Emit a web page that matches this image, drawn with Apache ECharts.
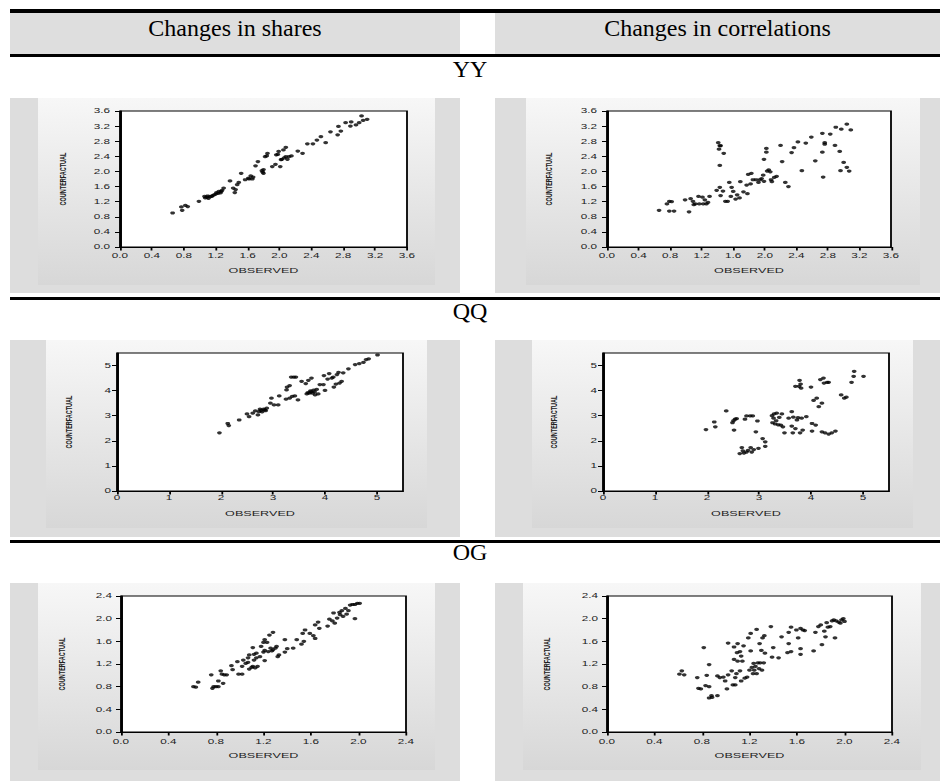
<!DOCTYPE html>
<html><head><meta charset="utf-8">
<script src="https://cdn.jsdelivr.net/npm/echarts@6/dist/echarts.min.js"></script>
<style>
body{margin:0;width:940px;height:781px;position:relative;background:#fff;overflow:hidden;font-family:"Liberation Serif",serif}
.line{position:absolute;left:10px;width:930px;background:#000}
.hdr{position:absolute;top:13px;height:41px;background:#dedede}
.txt{position:absolute;line-height:24px;font-size:24px;text-align:center;color:#000;white-space:nowrap}
.outer{position:absolute;background:#dddddd}
.inner{position:absolute;background:linear-gradient(#f7f7f7,#d7d7d7)}
.chart{position:absolute;transform-origin:0 0}
</style></head><body>
<div class="line" style="top:9px;height:4px"></div>
<div class="hdr" style="left:10px;width:450px"></div>
<div class="hdr" style="left:495px;width:445px"></div>
<div class="txt" style="left:10px;width:450px;top:16px">Changes in shares</div>
<div class="txt" style="left:495px;width:445px;top:16px">Changes in correlations</div>
<div class="line" style="top:54px;height:3px"></div>
<div class="txt" style="left:0;width:940px;top:57px">YY</div>
<div class="outer" style="left:10px;top:98px;width:450px;height:195px"></div>
<div class="outer" style="left:495px;top:98px;width:445px;height:195px"></div>
<div class="inner" style="left:38px;top:98px;width:397px;height:187px"></div>
<div class="inner" style="left:526px;top:98px;width:394px;height:187px"></div>
<div class="line" style="top:297px;height:3px"></div>
<div class="txt" style="left:0;width:940px;top:299px">QQ</div>
<div class="outer" style="left:10px;top:340px;width:450px;height:197px"></div>
<div class="outer" style="left:495px;top:340px;width:445px;height:197px"></div>
<div class="inner" style="left:46px;top:340px;width:381px;height:188px"></div>
<div class="inner" style="left:532px;top:340px;width:381px;height:188px"></div>
<div class="line" style="top:540px;height:3px"></div>
<div class="txt" style="left:0;width:940px;top:540px">OG</div>
<div class="outer" style="left:10px;top:583px;width:450px;height:198px"></div>
<div class="outer" style="left:495px;top:583px;width:445px;height:198px"></div>
<div class="inner" style="left:38px;top:583px;width:397px;height:187px"></div>
<div class="inner" style="left:523px;top:583px;width:398px;height:187px"></div>
<div id="c0" class="chart"></div><div id="c1" class="chart"></div>
<div id="c2" class="chart"></div><div id="c3" class="chart"></div>
<div id="c4" class="chart"></div><div id="c5" class="chart"></div>
<script>
// ---- data ----
const yyShareX=[0.66,0.77,0.78,0.82,0.85,0.99,1.06,1.07,1.09,1.10,1.11,1.13,1.15,1.16,1.18,1.20,1.21,1.23,1.24,1.26,1.27,1.28,1.30,1.38,1.42,1.44,1.45,1.47,1.49,1.52,1.57,1.61,1.62,1.64,1.66,1.67,1.70,1.73,1.78,1.79,1.80,1.80,1.82,1.84,1.85,1.91,1.95,1.96,1.98,1.99,2.01,2.02,2.03,2.05,2.06,2.08,2.08,2.10,2.12,2.15,2.23,2.29,2.35,2.42,2.47,2.52,2.58,2.64,2.73,2.74,2.77,2.83,2.89,2.90,2.96,3.00,3.03,3.05,3.10];
const yyShareY=[0.90,1.06,0.97,1.10,1.07,1.21,1.34,1.30,1.32,1.35,1.29,1.33,1.34,1.36,1.38,1.40,1.44,1.42,1.47,1.43,1.47,1.50,1.56,1.75,1.56,1.44,1.52,1.65,1.71,1.95,1.78,1.82,1.80,1.88,1.80,1.85,2.15,2.26,2.02,1.98,1.95,2.05,2.39,2.41,2.48,2.13,2.19,2.44,2.45,2.53,2.13,2.31,2.32,2.57,2.36,2.64,2.39,2.32,2.39,2.41,2.54,2.48,2.73,2.73,2.83,2.92,2.76,3.05,2.97,3.19,3.07,3.29,3.20,3.31,3.23,3.29,3.47,3.35,3.38];
const yyCorrX=[0.66,0.76,0.79,0.82,0.79,0.85,0.99,1.04,1.06,1.09,1.10,1.12,1.16,1.17,1.21,1.22,1.24,1.26,1.28,1.30,1.39,1.41,1.43,1.42,1.44,1.43,1.48,1.43,1.44,1.47,1.50,1.53,1.55,1.58,1.60,1.57,1.63,1.65,1.68,1.69,1.73,1.77,1.78,1.79,1.83,1.82,1.85,1.89,1.92,1.94,1.96,1.98,1.99,1.99,2.02,2.02,2.03,2.05,2.07,2.08,2.09,2.12,2.15,2.20,2.22,2.26,2.30,2.34,2.37,2.42,2.47,2.52,2.59,2.64,2.73,2.73,2.74,2.76,2.76,2.83,2.89,2.90,2.95,2.97,2.96,3.00,3.04,3.04,3.07,3.09];
const yyCorrY=[0.97,1.14,1.21,1.20,0.95,0.95,1.25,0.93,1.28,1.21,1.12,1.14,1.34,1.14,1.32,1.14,1.25,1.14,1.18,1.34,1.50,2.76,2.68,2.59,2.68,2.16,2.48,1.58,1.36,1.48,1.21,1.21,1.71,1.58,1.47,1.34,1.27,1.38,1.30,1.73,1.46,1.64,1.41,1.92,1.95,1.67,1.78,1.78,1.71,1.78,1.81,1.90,2.32,1.74,2.61,2.51,2.01,2.04,1.99,1.78,1.73,1.84,1.87,2.69,2.26,1.71,1.60,2.50,2.63,2.78,2.02,2.75,2.91,2.28,3.01,2.51,1.85,2.76,2.72,2.99,2.69,3.17,2.53,3.12,2.02,2.24,3.25,2.11,2.01,3.10];
const qqShareX=[1.97,2.13,2.15,2.35,2.50,2.54,2.61,2.66,2.71,2.73,2.75,2.77,2.79,2.82,2.84,2.86,2.88,2.95,2.97,3.02,3.10,3.12,3.25,3.26,3.27,3.32,3.35,3.40,3.44,3.32,3.37,3.42,3.48,3.55,3.63,3.65,3.67,3.68,3.70,3.72,3.73,3.74,3.76,3.78,3.80,3.81,3.84,3.87,3.90,3.97,3.98,4.00,4.05,4.08,4.13,4.16,4.17,4.21,4.23,4.26,4.28,4.32,4.35,4.45,4.58,4.66,4.74,4.79,4.84,5.01];
const qqShareY=[2.32,2.69,2.61,2.83,3.07,2.96,3.10,3.19,3.03,3.16,3.26,3.21,3.15,3.26,3.23,3.20,3.30,3.50,3.70,3.43,3.43,3.79,3.66,4.03,4.14,4.20,4.54,4.54,4.54,3.70,3.77,3.79,3.63,4.37,4.28,3.87,3.92,4.41,3.90,3.99,3.95,4.50,3.90,4.02,3.95,3.83,4.05,3.87,4.24,4.24,4.60,4.01,4.46,4.68,4.50,4.54,4.14,4.26,4.64,4.73,4.30,4.37,4.71,4.87,5.04,5.08,5.13,5.24,5.27,5.42];
const qqCorrX=[1.98,2.14,2.16,2.37,2.49,2.51,2.52,2.54,2.57,2.63,2.67,2.69,2.73,2.71,2.76,2.76,2.79,2.83,2.84,2.86,2.88,2.90,2.94,2.97,2.99,3.07,3.12,3.12,3.25,3.26,3.28,3.29,3.31,3.33,3.34,3.37,3.39,3.42,3.44,3.46,3.49,3.57,3.63,3.63,3.65,3.66,3.70,3.70,3.73,3.75,3.77,3.78,3.79,3.80,3.81,3.82,3.84,3.91,4.00,4.02,4.02,4.05,4.09,4.11,4.15,4.18,4.21,4.21,4.24,4.25,4.27,4.31,4.34,4.34,4.40,4.47,4.58,4.64,4.68,4.78,4.82,4.83,5.01];
const qqCorrY=[2.45,2.75,2.56,3.19,2.72,2.80,2.43,2.86,2.88,1.49,1.73,1.60,2.86,1.51,2.99,1.55,1.62,2.99,1.73,1.55,2.99,1.65,2.36,2.79,1.70,2.09,1.96,1.78,3.00,2.72,2.90,3.07,2.67,2.80,3.10,2.64,2.93,2.63,3.07,2.56,2.32,2.90,3.16,2.59,2.32,2.94,2.49,4.17,2.83,2.92,4.17,4.41,2.32,4.26,4.10,2.90,2.43,2.96,4.14,2.69,2.39,3.61,2.63,3.70,3.36,4.44,3.50,2.36,4.50,4.30,2.32,4.33,4.33,2.27,2.32,2.39,3.83,3.70,3.74,4.33,4.57,4.77,4.57];
const ogShareX=[0.61,0.63,0.65,0.76,0.77,0.78,0.80,0.82,0.82,0.84,0.85,0.86,0.87,0.89,0.93,0.94,0.98,0.99,1.02,1.02,1.03,1.05,1.07,1.07,1.08,1.08,1.10,1.11,1.11,1.12,1.12,1.13,1.14,1.14,1.15,1.17,1.18,1.20,1.20,1.21,1.21,1.21,1.23,1.24,1.25,1.26,1.27,1.28,1.28,1.30,1.31,1.32,1.33,1.38,1.38,1.40,1.45,1.48,1.52,1.53,1.54,1.55,1.59,1.62,1.635,1.635,1.66,1.67,1.74,1.755,1.78,1.79,1.80,1.82,1.84,1.845,1.86,1.87,1.89,1.90,1.915,1.93,1.95,1.97,1.97,1.99,2.01];
const ogShareY=[0.80,0.79,0.88,1.01,0.77,0.80,0.80,0.80,0.90,1.08,1.02,0.86,1.01,1.01,1.17,1.10,1.24,1.02,1.02,1.16,1.27,1.21,1.31,1.23,1.36,1.11,1.14,1.49,1.16,1.37,1.27,1.13,1.39,1.31,1.16,1.33,1.51,1.58,1.41,1.63,1.26,1.44,1.58,1.42,1.71,1.48,1.43,1.76,1.45,1.48,1.51,1.33,1.36,1.63,1.41,1.47,1.48,1.63,1.55,1.74,1.60,1.80,1.74,1.70,1.65,1.89,1.94,1.83,1.87,1.99,1.96,2.10,1.92,2.01,2.11,2.07,2.14,2.04,2.18,2.08,2.14,2.24,2.25,2.25,2.00,2.27,2.27];
const ogCorrX=[0.61,0.63,0.65,0.76,0.77,0.79,0.815,0.83,0.84,0.86,0.86,0.86,0.88,0.885,0.93,0.93,0.95,0.98,0.995,1.01,1.02,1.02,1.05,1.06,1.07,1.07,1.08,1.08,1.09,1.095,1.10,1.10,1.12,1.12,1.13,1.13,1.14,1.15,1.16,1.18,1.19,1.20,1.21,1.21,1.22,1.23,1.235,1.24,1.25,1.26,1.26,1.27,1.28,1.285,1.29,1.30,1.305,1.31,1.32,1.325,1.33,1.38,1.39,1.40,1.445,1.47,1.53,1.52,1.53,1.55,1.55,1.595,1.61,1.63,1.63,1.63,1.65,1.665,1.74,1.755,1.78,1.80,1.81,1.83,1.84,1.85,1.86,1.88,1.895,1.91,1.92,1.93,1.95,1.965,1.975,1.99,2.00];
const ogCorrY=[1.02,1.08,1.01,0.96,0.77,0.76,1.49,0.82,1.00,0.80,0.60,1.19,0.64,0.61,0.64,0.99,0.96,0.97,0.90,0.76,1.57,1.01,1.08,0.83,1.28,1.50,0.96,0.83,1.03,1.40,1.25,1.56,1.08,1.42,1.34,0.90,1.25,1.52,0.95,0.97,1.66,1.09,1.74,1.43,1.14,1.03,1.21,1.09,1.16,1.03,1.81,1.22,1.12,1.56,1.22,1.44,1.09,1.66,1.22,1.70,1.39,1.86,1.32,1.49,1.31,1.68,1.76,1.40,1.56,1.85,1.42,1.80,1.66,1.83,1.47,1.37,1.80,1.79,1.43,1.76,1.86,1.89,1.54,1.78,1.68,1.93,1.85,1.86,1.96,1.98,1.66,1.96,1.94,1.92,1.98,2.00,1.95];
const yyTicks=[0,0.4,0.8,1.2,1.6,2.0,2.4,2.8,3.2,3.6];
const qqTicks=[0,1,2,3,4,5];
const ogTicks=[0,0.4,0.8,1.2,1.6,2.0,2.4];
const xTitle='OBSERVED', yTitle='COUNTERFACTUAL';

// ---- layout (page pixels) ----
const S=1.8;
const panels=[
 {el:'c0',xs:yyShareX,ys:yyShareY,ticks:yyTicks,max:3.6,dec:1,plot:[120,111,407,247],yGap:52,yLM:10,xLM:5,xGap:20.5},
 {el:'c1',xs:yyCorrX,ys:yyCorrY,ticks:yyTicks,max:3.6,dec:1,plot:[607,111,891,247],yGap:53,yLM:10,xLM:5,xGap:20.5},
 {el:'c2',xs:qqShareX,ys:qqShareY,ticks:qqTicks,max:5.5,dec:0,plot:[117,353,403,491],yGap:43,yLM:6,xLM:3.5,xGap:19},
 {el:'c3',xs:qqCorrX,ys:qqCorrY,ticks:qqTicks,max:5.5,dec:0,plot:[603,353,889,491],yGap:44,yLM:6,xLM:3.5,xGap:19},
 {el:'c4',xs:ogShareX,ys:ogShareY,ticks:ogTicks,max:2.4,dec:1,plot:[121,596,406,732],yGap:54,yLM:9,xLM:6,xGap:20.5},
 {el:'c5',xs:ogCorrX,ys:ogCorrY,ticks:ogTicks,max:2.4,dec:1,plot:[607,596,892,732],yGap:55,yLM:9,xLM:6,xGap:20.5}
];
const PADL=90, PADR=20, PADT=10, PADB=45;
const lbl={fontFamily:'"Liberation Sans",Arial,sans-serif',fontSize:6.5,color:'#222'};
panels.forEach(p=>{
  const [L,T,R,B]=p.plot;
  const el=document.getElementById(p.el);
  const pw=(R-L)+PADL+PADR;
  el.style.left=(L-PADL)+'px'; el.style.top=(T-PADT)+'px';
  el.style.width=(pw/S)+'px'; el.style.height=((B-T)+PADT+PADB)+'px';
  el.style.transform='scaleX('+S+')';
  const chart=echarts.init(el,null,{renderer:'svg'});
  const interval=p.ticks[1]-p.ticks[0];
  const fmt=v=>Number(v).toFixed(p.dec);
  const common={min:0,max:p.max,interval:interval,splitLine:{show:false},
    axisLine:{show:true,lineStyle:{color:'#000',width:1.2}},
    axisLabel:Object.assign({formatter:fmt,customValues:p.ticks},lbl),
    axisTick:{show:true,lineStyle:{color:'#000',width:1},customValues:p.ticks}};
  const data=p.xs.map((x,i)=>[x,p.ys[i]]);
  chart.setOption({
    animation:false,
    grid:{left:PADL/S,top:PADT,width:(R-L)/S,height:B-T,show:true,borderColor:'#000',borderWidth:1,backgroundColor:'#fff'},
    xAxis:Object.assign({},common,{type:'value',
      axisLabel:Object.assign({},common.axisLabel,{margin:p.xLM}),
      axisTick:Object.assign({},common.axisTick,{length:3.5}),
      name:xTitle,nameLocation:'middle',nameGap:p.xGap,
      nameTextStyle:{fontFamily:'"Liberation Sans",Arial,sans-serif',fontSize:7,color:'#222',verticalAlign:'top'}}),
    yAxis:Object.assign({},common,{type:'value',
      axisLabel:Object.assign({},common.axisLabel,{margin:p.yLM/S}),
      axisTick:Object.assign({},common.axisTick,{length:5/S}),
      name:yTitle,nameLocation:'middle',nameGap:p.yGap/S,
      nameTextStyle:{fontFamily:'"Liberation Sans",Arial,sans-serif',fontSize:5.5,fontWeight:'bold',color:'#222'}}),
    series:[{type:'scatter',data:data,symbol:'circle',symbolSize:[4.8/S,3.2],itemStyle:{color:'#000'},silent:true}]
  });
});
</script>
</body></html>
